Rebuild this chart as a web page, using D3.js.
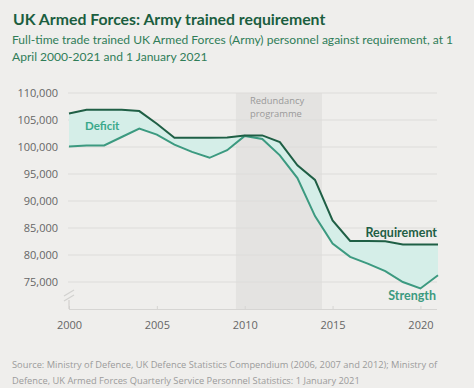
<!DOCTYPE html>
<html>
<head>
<meta charset="utf-8">
<script src="https://cdn.jsdelivr.net/npm/d3@7"></script>
<style>
  body { margin: 0; background: #efeeec; }
  svg { display: block; font-family: 'Open Sans', sans-serif; }
</style>
</head>
<body>
<svg id="chart" width="474" height="388"></svg>
<script>
'use strict';

// data
var years = [2000, 2001, 2002, 2003, 2004, 2005, 2006, 2007, 2008, 2009, 2010,
             2011, 2012, 2013, 2014, 2015, 2016, 2017, 2018, 2019, 2020, 2021];
var requirement = [106200, 106900, 106900, 106900, 106650, 104300, 101700, 101700, 101700, 101750, 102150,
                   102150, 100900, 96600, 93900, 86400, 82600, 82600, 82550, 81950, 81950, 81950];
var strength = [100100, 100300, 100300, 101850, 103400, 102300, 100450, 99100, 98000, 99400, 102050,
                101500, 98450, 94250, 87200, 82100, 79650, 78400, 77000, 75000, 73800, 76250];
var yTicks = [75000, 80000, 85000, 90000, 95000, 100000, 105000, 110000];
var xTicks = [2000, 2005, 2010, 2015, 2020];
var redundancy = [2009.5, 2014.4];

var rows = years.map(function(yr, i) {
  return { year: yr, req: requirement[i], str: strength[i] };
});

var svg = d3.select('#chart');
var headFont = "Lato, 'Open Sans', sans-serif";

var x = d3.scaleLinear().domain([2000, 2021]).range([69, 438]);
var y = d3.scaleLinear().domain([70000, 110000]).range([309, 93]);

// titles
svg.append('text')
  .attr('x', 13).attr('y', 25)
  .attr('font-family', headFont)
  .attr('font-size', '15.8px').attr('font-weight', 700)
  .attr('fill', '#1b5e40')
  .text('UK Armed Forces: Army trained requirement');

var sub = svg.append('text')
  .attr('font-family', headFont)
  .attr('font-size', '12.05px')
  .attr('fill', '#2f7d58');
sub.append('tspan').attr('x', 12).attr('y', 44)
  .text('Full-time trade trained UK Armed Forces (Army) personnel against requirement, at 1');
sub.append('tspan').attr('x', 12).attr('y', 61)
  .text('April 2000-2021 and 1 January 2021');

// redundancy programme band
svg.append('rect')
  .attr('x', x(redundancy[0]))
  .attr('y', y(110000))
  .attr('width', x(redundancy[1]) - x(redundancy[0]))
  .attr('height', y(70000) - y(110000))
  .attr('fill', '#e4e3e1');

var band = svg.append('text')
  .attr('font-size', '9.4px').attr('fill', '#9a9a9a');
band.append('tspan').attr('x', x(redundancy[0]) + 14).attr('y', 104).text('Redundancy');
band.append('tspan').attr('x', x(redundancy[0]) + 14).attr('y', 117).text('programme');

// grid lines
svg.append('g').selectAll('line')
  .data(yTicks)
  .enter()
  .append('line')
  .attr('x1', 68).attr('x2', 437)
  .attr('y1', function(d) { return y(d); })
  .attr('y2', function(d) { return y(d); })
  .attr('stroke', '#dddcda')
  .attr('stroke-width', 1);

// y axis labels
svg.append('g').selectAll('text')
  .data(yTicks)
  .enter()
  .append('text')
  .attr('x', 58)
  .attr('y', function(d) { return y(d) + 4; })
  .attr('text-anchor', 'end')
  .attr('font-size', '11px')
  .attr('fill', '#666')
  .text(function(d) { return d3.format(',')(d); });

// x axis
var xAxis = svg.append('g')
  .attr('transform', 'translate(0,' + y(70000) + ')')
  .call(d3.axisBottom(x).tickValues(xTicks).tickFormat(d3.format('d')).tickSize(3).tickPadding(9));
xAxis.select('.domain').attr('stroke', '#d6d5d3').attr('d', 'M69,0.5H437');
xAxis.selectAll('.tick line').attr('stroke', '#d6d5d3').attr('y1', -3).attr('y2', 0);
xAxis.selectAll('.tick text')
  .attr('font-family', "'Open Sans', sans-serif")
  .attr('font-size', '11px').attr('fill', '#666');

// axis break mark
var brk = svg.append('g').attr('stroke', '#d2d1cf').attr('stroke-width', 1.2).attr('fill', 'none');
brk.append('path').attr('d', 'M69,309V300');
brk.append('path').attr('d', 'M64,296L74,290');
brk.append('path').attr('d', 'M64,301L74,295');

// deficit area
svg.append('path')
  .datum(rows)
  .attr('fill', '#d5eee8')
  .attr('d', d3.area()
    .x(function(d) { return x(d.year); })
    .y0(function(d) { return y(d.str); })
    .y1(function(d) { return y(d.req); }));

// lines
svg.append('path')
  .datum(rows)
  .attr('fill', 'none')
  .attr('stroke', '#3c9a80')
  .attr('stroke-width', 2)
  .attr('d', d3.line()
    .x(function(d) { return x(d.year); })
    .y(function(d) { return y(d.str); }));

svg.append('path')
  .datum(rows)
  .attr('fill', 'none')
  .attr('stroke', '#1f5f45')
  .attr('stroke-width', 2)
  .attr('d', d3.line()
    .x(function(d) { return x(d.year); })
    .y(function(d) { return y(d.req); }));

// labels
svg.append('text')
  .attr('x', 85).attr('y', 130)
  .attr('font-family', headFont)
  .attr('font-size', '11.5px').attr('font-weight', 700)
  .attr('fill', '#3aa88a')
  .text('Deficit');

svg.append('text')
  .attr('x', 437).attr('y', 237)
  .attr('text-anchor', 'end')
  .attr('font-family', headFont)
  .attr('font-size', '12.5px').attr('font-weight', 700)
  .attr('fill', '#1f5f45')
  .text('Requirement');

svg.append('text')
  .attr('x', 436).attr('y', 300)
  .attr('text-anchor', 'end')
  .attr('font-family', headFont)
  .attr('font-size', '12.5px').attr('font-weight', 700)
  .attr('fill', '#3c9a80')
  .text('Strength');

// source
var src = svg.append('text')
  .attr('font-size', '9.3px').attr('fill', '#9b9b9b');
src.append('tspan').attr('x', 12).attr('y', 368)
  .text('Source: Ministry of Defence, UK Defence Statistics Compendium (2006, 2007 and 2012); Ministry of');
src.append('tspan').attr('x', 12).attr('y', 384)
  .text('Defence, UK Armed Forces Quarterly Service Personnel Statistics: 1 January 2021');
</script>
</body>
</html>
